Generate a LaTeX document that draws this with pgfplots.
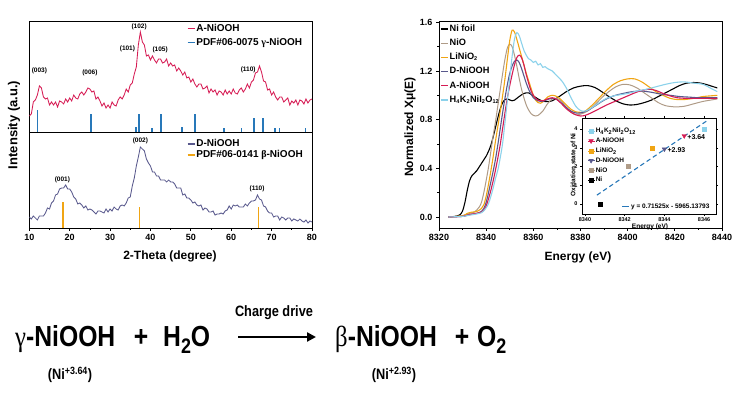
\documentclass[border=0pt]{standalone}
\usepackage{fontspec}
\setmainfont{Liberation Sans}
\newfontfamily\gk{Liberation Serif}
\usepackage{pgfplots}
\pgfplotsset{compat=1.18}
\usetikzlibrary{arrows.meta}
\definecolor{cred}{RGB}{214,28,84}
\definecolor{cblue}{RGB}{40,120,185}
\definecolor{corange}{RGB}{240,165,20}
\definecolor{cpurple}{RGB}{88,88,140}
\definecolor{ctan}{RGB}{175,155,135}
\definecolor{clb}{RGB}{140,210,235}
\newcommand{\anno}{\bfseries\fontsize{6.5}{7}\selectfont}
\newcommand{\eqfont}{\bfseries\fontsize{29}{30}\selectfont}
\newcommand{\sub}[1]{\textsubscript{\fontsize{5.5}{6}\selectfont #1}}
\pgfplotsset{
 myaxis/.style={scale only axis, axis line style={line width=0.9pt}, tick style={line width=0.7pt, black},
   major tick length=3pt, minor tick length=1.8pt, tick align=outside,
   ticklabel style={font=\bfseries\fontsize{9}{10}\selectfont},
   /pgf/number format/assume math mode=true, /pgf/number format/set thousands separator={}},
}
\begin{document}
\begin{tikzpicture}[x=1pt,y=1pt]
\path[use as bounding box] (0,0) rectangle (740,395);

% ---------------- XRD upper
\begin{axis}[myaxis, at={(29.3pt,263pt)}, anchor=south west, width=282.7pt, height=111pt,
  xmin=10, xmax=80, ymin=0, ymax=111, xtick=\empty, ytick=\empty,
  legend cell align=left,
  legend style={at={(0.547,1.0)}, anchor=north west, draw=none, fill=none,
    font=\bfseries\fontsize{10}{11}\selectfont, nodes={inner sep=1pt, text height=7pt, text depth=2pt}, row sep=3.2pt},
  legend image code/.code={\draw[#1, line width=1.2pt] (0pt,0pt) -- (7pt,0pt);}]
\addplot[ycomb, cblue, line width=1.4pt, forget plot] coordinates {(12.1,22) (25.3,18) (36.4,5) (37.2,18) (40.4,4) (42.6,18) (47.8,5) (51.0,18) (58.2,4) (62.6,4) (65.6,14) (67.9,14) (70.8,4) (72.0,4) (78.4,4)};
\addplot[cred, line width=0.85pt, forget plot] coordinates {(10.0,16) (10.5,18) (11.0,30) (11.5,32) (12.0,37) (12.5,46) (13.0,44) (13.5,35) (14.0,33) (14.5,34) (15.0,27) (15.5,30) (16.0,27) (16.5,30) (17.0,25) (17.5,31) (18.0,30) (18.5,28) (19.0,33) (19.5,30) (20.0,34) (20.5,31) (21.0,37) (21.5,34) (22.0,33) (22.5,38) (23.0,40) (23.5,37) (24.0,40) (24.5,44) (25.0,43) (25.5,40) (26.0,41) (26.5,33) (27.0,35) (27.5,31) (28.0,26) (28.5,29) (29.0,24) (29.5,27) (30.0,24) (30.5,30) (31.0,27) (31.5,26) (32.0,32) (32.5,35) (33.0,33) (33.5,37) (34.0,43) (34.5,40) (35.0,47) (35.5,49) (36.0,58) (36.5,65) (37.0,87) (37.5,100) (38.0,90) (38.5,87) (39.0,76) (39.5,77) (40.0,72) (40.5,76) (41.0,72) (41.5,69) (42.0,73) (42.5,73) (43.0,69) (43.5,70) (44.0,73) (44.5,66) (45.0,69) (45.5,66) (46.0,67) (46.5,61) (47.0,64) (47.5,61) (48.0,57) (48.5,60) (49.0,54) (49.5,55) (50.0,50) (50.5,53) (51.0,48) (51.5,45) (52.0,48) (52.5,48) (53.0,43) (53.5,44) (54.0,46) (54.5,39) (55.0,43) (55.5,40) (56.0,42) (56.5,37) (57.0,41) (57.5,40) (58.0,37) (58.5,42) (59.0,38) (59.5,41) (60.0,38) (60.5,43) (61.0,39) (61.5,38) (62.0,42) (62.5,44) (63.0,40) (63.5,43) (64.0,48) (64.5,44) (65.0,50) (65.5,52) (66.0,59) (66.5,60) (67.0,66) (67.5,60) (68.0,51) (68.5,50) (69.0,42) (69.5,43) (70.0,37) (70.5,40) (71.0,35) (71.5,32) (72.0,35) (72.5,35) (73.0,30) (73.5,32) (74.0,34) (74.5,27) (75.0,31) (75.5,29) (76.0,32) (76.5,27) (77.0,32) (77.5,31) (78.0,28) (78.5,33) (79.0,29) (79.5,32) (80.0,33)};
\addlegendimage{cred, line width=1.2pt}
\addlegendentry{A-NiOOH}
\addlegendimage{cblue, line width=1.2pt}
\addlegendentry{PDF\#06-0075 {\gk γ}-NiOOH}
\node[font=\anno] at (axis cs:12.5,61) {(003)};
\node[font=\anno] at (axis cs:25,59) {(006)};
\node[font=\anno] at (axis cs:34.3,83) {(101)};
\node[font=\anno] at (axis cs:37.2,105) {(102)};
\node[font=\anno] at (axis cs:42.4,82) {(105)};
\node[font=\anno] at (axis cs:64.2,62) {(110)};
\end{axis}

% ---------------- XRD lower
\begin{axis}[myaxis, at={(29.3pt,167pt)}, anchor=south west, width=282.7pt, height=96pt,
  xmin=10, xmax=80, ymin=0, ymax=96, xtick={10,20,...,80}, minor x tick num=1, ytick=\empty, tick pos=left,
  legend cell align=left,
  legend style={at={(0.547,0.955)}, anchor=north west, draw=none, fill=none,
    font=\bfseries\fontsize{10}{11}\selectfont, nodes={inner sep=1pt, text height=7pt, text depth=2pt}, row sep=0pt},
  legend image code/.code={\draw[#1, line width=1.2pt] (0pt,0pt) -- (7pt,0pt);}]
\addplot[ycomb, corange, line width=1.4pt, forget plot] coordinates {(18.3,26) (37.3,21) (66.8,21)};
\addplot[cpurple, line width=0.85pt, forget plot] coordinates {(10.0,11) (10.5,9) (11.0,12) (11.5,10) (12.0,8) (12.5,12) (13.0,12) (13.5,12) (14.0,15) (14.5,20) (15.0,19) (15.5,25) (16.0,27) (16.5,33) (17.0,34) (17.5,39) (18.0,40) (18.5,40) (19.0,43) (19.5,39) (20.0,39) (20.5,36) (21.0,31) (21.5,29) (22.0,24) (22.5,25) (23.0,23) (23.5,20) (24.0,22) (24.5,18) (25.0,19) (25.5,18) (26.0,16) (26.5,14) (27.0,17) (27.5,17) (28.0,16) (28.5,15) (29.0,19) (29.5,16) (30.0,19) (30.5,17) (31.0,21) (31.5,19) (32.0,18) (32.5,22) (33.0,23) (33.5,22) (34.0,25) (34.5,30) (35.0,31) (35.5,42) (36.0,50) (36.5,62) (37.0,71) (37.5,81) (38.0,79) (38.5,77) (39.0,69) (39.5,65) (40.0,62) (40.5,56) (41.0,56) (41.5,52) (42.0,52) (42.5,48) (43.0,48) (43.5,48) (44.0,46) (44.5,48) (45.0,46) (45.5,46) (46.0,44) (46.5,40) (47.0,40) (47.5,40) (48.0,33) (48.5,34) (49.0,30) (49.5,30) (50.0,28) (50.5,25) (51.0,26) (51.5,23) (52.0,22) (52.5,23) (53.0,18) (53.5,20) (54.0,19) (54.5,16) (55.0,16) (55.5,17) (56.0,13) (56.5,14) (57.0,14) (57.5,15) (58.0,14) (58.5,17) (59.0,18) (59.5,22) (60.0,19) (60.5,23) (61.0,22) (61.5,23) (62.0,21) (62.5,21) (63.0,21) (63.5,24) (64.0,22) (64.5,25) (65.0,27) (65.5,27) (66.0,28) (66.5,33) (67.0,29) (67.5,28) (68.0,22) (68.5,21) (69.0,17) (69.5,15) (70.0,15) (70.5,11) (71.0,12) (71.5,12) (72.0,8) (72.5,11) (73.0,10) (73.5,8) (74.0,10) (74.5,10) (75.0,7) (75.5,9) (76.0,8) (76.5,7) (77.0,9) (77.5,7) (78.0,6) (78.5,8) (79.0,5) (79.5,7) (80.0,6)};
\addlegendimage{cpurple, line width=1.2pt}
\addlegendentry{D-NiOOH}
\addlegendimage{corange, line width=1.2pt}
\addlegendentry{PDF\#06-0141 {\gk β}-NiOOH}
\node[font=\anno] at (axis cs:18.2,48) {(001)};
\node[font=\anno] at (axis cs:37.5,87) {(002)};
\node[font=\anno] at (axis cs:66.4,39) {(110)};
\end{axis}

\node[rotate=90, font=\bfseries\fontsize{13}{14}\selectfont] at (14,270) {Intensity (a.u.)};
\node[font=\bfseries\fontsize{12}{13}\selectfont] at (170,139) {2-Theta (degree)};

% ---------------- XANES
\begin{axis}[myaxis, at={(439pt,167pt)}, anchor=south west, width=283pt, height=206.5pt,
  xmin=8320, xmax=8440, ymin=-0.0904, ymax=1.6065,
  xtick={8320,8340,...,8440}, minor x tick num=1,
  ytick={0,0.4,0.8,1.2,1.6}, minor y tick num=1, tick pos=left,
  yticklabel style={/pgf/number format/.cd, fixed, fixed zerofill, precision=1},
  legend cell align=left,
  legend style={at={(-0.005,1.0)}, anchor=north west, draw=none, fill=none,
    font=\bfseries\fontsize{9.2}{10}\selectfont, nodes={inner sep=0.6pt, text height=7pt, text depth=2.5pt}, row sep=3.5pt},
  legend image code/.code={\draw[#1, line width=1.3pt] (0pt,0pt) -- (7pt,0pt);}]
\addplot[black, line width=1.1pt, smooth] coordinates {(8324,0.0) (8326,0.003) (8328,0.01) (8329,0.02) (8330,0.05) (8331,0.12) (8332,0.22) (8333,0.30) (8334,0.34) (8335,0.36) (8336,0.38) (8337,0.41) (8338,0.44) (8339,0.47) (8340,0.50) (8341,0.54) (8342,0.59) (8343,0.66) (8344,0.74) (8345,0.82) (8346,0.89) (8347,0.94) (8348,0.965) (8349,0.97) (8350,0.962) (8351,0.955) (8352,0.96) (8353,0.975) (8354,0.99) (8356,1.015) (8358,1.02) (8360,0.995) (8362,0.97) (8364,0.952) (8366,0.948) (8368,0.955) (8371,0.99) (8374,1.03) (8377,1.06) (8380,1.075) (8383,1.08) (8386,1.065) (8389,1.03) (8392,0.99) (8395,0.955) (8398,0.93) (8401,0.92) (8404,0.925) (8407,0.94) (8410,0.96) (8413,0.99) (8416,1.02) (8419,1.05) (8422,1.08) (8425,1.10) (8428,1.105) (8431,1.10) (8434,1.085) (8438,1.06)};
\addlegendentry{Ni foil}
\addplot[ctan, line width=1.0pt, smooth] coordinates {(8324,0.0) (8330,0.01) (8333,0.03) (8335,0.04) (8337,0.08) (8338,0.12) (8339,0.2) (8340,0.3) (8341,0.41) (8342,0.54) (8343,0.67) (8344,0.79) (8345,0.92) (8346,1.05) (8347,1.18) (8348,1.3) (8349,1.39) (8350,1.42) (8351,1.40) (8352,1.33) (8353,1.24) (8354,1.14) (8355,1.05) (8356,0.98) (8357,0.92) (8358,0.88) (8359,0.85) (8360,0.835) (8361,0.83) (8362,0.835) (8364,0.87) (8366,0.93) (8368,0.97) (8370,0.975) (8372,0.95) (8374,0.9) (8376,0.86) (8378,0.84) (8380,0.845) (8383,0.87) (8386,0.92) (8389,0.98) (8392,1.03) (8395,1.07) (8398,1.09) (8401,1.085) (8404,1.06) (8407,1.02) (8410,0.98) (8413,0.94) (8416,0.915) (8420,0.905) (8424,0.91) (8428,0.93) (8432,0.95) (8435,0.96) (8438,0.97)};
\addlegendentry{NiO}
\addplot[corange, line width=1.1pt, smooth] coordinates {(8324,0.0) (8330,0.01) (8332,0.03) (8334,0.04) (8336,0.045) (8338,0.07) (8339,0.1) (8340,0.17) (8341,0.27) (8342,0.38) (8343,0.5) (8344,0.63) (8345,0.75) (8346,0.87) (8347,1.0) (8348,1.14) (8349,1.3) (8350,1.45) (8351,1.535) (8352,1.52) (8353,1.46) (8354,1.39) (8355,1.32) (8356,1.25) (8357,1.18) (8358,1.12) (8359,1.06) (8360,1.0) (8361,0.96) (8362,0.94) (8363,0.935) (8364,0.945) (8366,0.985) (8368,1.0) (8370,0.99) (8372,0.96) (8374,0.92) (8376,0.885) (8378,0.865) (8380,0.86) (8382,0.87) (8385,0.92) (8388,0.98) (8391,1.04) (8394,1.09) (8397,1.12) (8400,1.135) (8403,1.135) (8406,1.11) (8409,1.07) (8412,1.03) (8415,1.0) (8418,0.975) (8421,0.965) (8424,0.965) (8428,0.975) (8432,0.99) (8435,0.995) (8438,1.0)};
\addlegendentry{LiNiO\sub{2}}
\addplot[cpurple, line width=1.1pt, smooth] coordinates {(8324,0.0) (8330,0.005) (8333,0.02) (8336,0.03) (8338,0.045) (8339,0.07) (8340,0.12) (8341,0.2) (8342,0.29) (8343,0.38) (8344,0.48) (8345,0.6) (8346,0.73) (8347,0.86) (8348,0.98) (8349,1.09) (8350,1.18) (8351,1.24) (8352,1.28) (8353,1.29) (8354,1.27) (8355,1.22) (8356,1.16) (8357,1.1) (8358,1.05) (8359,1.01) (8360,0.98) (8362,0.955) (8364,0.95) (8366,0.965) (8368,0.975) (8370,0.965) (8372,0.935) (8374,0.9) (8376,0.87) (8378,0.855) (8380,0.855) (8383,0.875) (8386,0.91) (8390,0.96) (8394,0.995) (8398,1.015) (8402,1.03) (8406,1.035) (8410,1.025) (8414,1.01) (8418,1.0) (8422,0.99) (8426,0.985) (8430,0.98) (8434,0.98) (8438,0.98)};
\addlegendentry{D-NiOOH}
\addplot[cred, line width=1.1pt, smooth] coordinates {(8324,0.0) (8330,0.005) (8333,0.02) (8336,0.03) (8338,0.04) (8339,0.055) (8340,0.09) (8341,0.15) (8342,0.22) (8343,0.3) (8344,0.39) (8345,0.49) (8346,0.6) (8347,0.73) (8348,0.86) (8349,0.98) (8350,1.08) (8351,1.17) (8352,1.25) (8353,1.31) (8354,1.33) (8355,1.31) (8356,1.25) (8357,1.17) (8358,1.1) (8359,1.04) (8360,1.0) (8361,0.975) (8362,0.96) (8364,0.955) (8366,0.97) (8368,0.98) (8370,0.965) (8372,0.93) (8374,0.89) (8376,0.86) (8378,0.84) (8380,0.83) (8382,0.835) (8385,0.86) (8388,0.89) (8391,0.92) (8394,0.945) (8397,0.97) (8400,0.995) (8403,1.02) (8406,1.04) (8409,1.05) (8412,1.04) (8415,1.015) (8418,0.995) (8421,0.98) (8425,0.975) (8430,0.975) (8434,0.975) (8438,0.975)};
\addlegendentry{A-NiOOH}
\addplot[clb, line width=1.1pt, smooth] coordinates {(8324,0.0) (8330,0.005) (8333,0.015) (8336,0.025) (8338,0.035) (8339,0.05) (8340,0.075) (8341,0.11) (8342,0.17) (8343,0.24) (8344,0.32) (8345,0.39) (8346,0.49) (8347,0.61) (8348,0.78) (8349,0.96) (8350,1.14) (8351,1.32) (8352,1.46) (8353,1.515) (8354,1.49) (8355,1.43) (8356,1.37) (8357,1.33) (8358,1.30) (8359,1.29) (8360,1.27) (8361,1.28) (8362,1.25) (8363,1.26) (8364,1.23) (8365,1.235) (8366,1.22) (8367,1.21) (8368,1.2) (8370,1.16) (8372,1.12) (8374,1.06) (8376,0.98) (8378,0.91) (8380,0.875) (8382,0.87) (8385,0.9) (8388,0.94) (8391,0.975) (8394,0.995) (8397,1.005) (8400,1.015) (8404,1.035) (8408,1.05) (8412,1.07) (8416,1.09) (8420,1.105) (8424,1.11) (8428,1.1) (8432,1.09) (8435,1.06) (8438,1.03)};
\addlegendentry{H\sub{4}K\sub{2}NiI\sub{2}O\sub{12}}
\end{axis}

\node[rotate=90, font=\bfseries\fontsize{12}{13}\selectfont] at (410,268) {Normalized Xμ(E)};
\node[font=\bfseries\fontsize{12}{13}\selectfont] at (578,138) {Energy (eV)};

% ---------------- inset
\begin{axis}[myaxis, at={(582pt,181pt)}, anchor=south west, width=134pt, height=96pt,
  axis background/.style={fill=white},
  xmin=8339.85, xmax=8346.6, ymin=-0.53, ymax=4.59,
  xtick={8340,8342,8344,8346}, minor x tick num=1, ytick={0,1,2,3,4},
  major tick length=2pt, minor tick length=1.2pt, tick pos=both,
  axis line style={line width=0.8pt}, tick style={line width=0.5pt, black},
  ticklabel style={font=\bfseries\fontsize{5.5}{6}\selectfont},
  xticklabel style={yshift=1.5pt}, yticklabel style={xshift=1pt},
  legend cell align=left,
  legend style={at={(0.02,0.925)}, anchor=north west, draw=none, fill=none,
    font=\bfseries\fontsize{6.5}{7}\selectfont, nodes={inner sep=0.5pt, text height=5pt, text depth=1.5pt}, row sep=2.3pt},
  legend image code/.code={\path (0pt,0pt) -- (7pt,0pt); \draw[#1] plot coordinates {(3pt,0pt)};}]
\addplot[cblue, line width=1.1pt, dash pattern=on 4.5pt off 3pt, forget plot] coordinates {(8340.6,0.476) (8346.2,4.482)};
\addplot[only marks, mark=square*, mark size=2pt, clb] coordinates {(8346.0,4)};
\addlegendentry{H\sub{4}K\sub{2}NiI\sub{2}O\sub{12}}
\addplot[only marks, mark=triangle*, mark size=2.6pt, mark options={rotate=180}, cred] coordinates {(8345.0,3.64)};
\addlegendentry{A-NiOOH}
\addplot[only marks, mark=square*, mark size=2pt, corange] coordinates {(8343.4,3)};
\addlegendentry{LiNiO\sub{2}}
\addplot[only marks, mark=triangle*, mark size=2.6pt, mark options={rotate=180}, cpurple] coordinates {(8344.0,2.93)};
\addlegendentry{D-NiOOH}
\addplot[only marks, mark=square*, mark size=2pt, ctan] coordinates {(8342.2,2)};
\addlegendentry{NiO}
\addplot[only marks, mark=square*, mark size=2pt, black] coordinates {(8340.76,0)};
\addlegendentry{Ni}
\node[anchor=west, font=\bfseries\fontsize{7}{8}\selectfont, inner sep=1pt] at (axis cs:8345.1,3.55) {+3.64};
\node[anchor=west, font=\bfseries\fontsize{7}{8}\selectfont, inner sep=1pt] at (axis cs:8344.1,2.88) {+2.93};
\node[anchor=east, font=\bfseries\fontsize{6.5}{7}\selectfont, inner sep=1pt] at (rel axis cs:0.96,0.075) {\textcolor{cblue}{\rule[0.25em]{7pt}{1.1pt}}\ y = 0.71525x - 5965.13793};
\end{axis}
\node[rotate=90, font=\bfseries\fontsize{6.5}{7}\selectfont] at (573,230) {Oxidation state of Ni};
\node[font=\bfseries\fontsize{6.5}{7}\selectfont] at (650,168) {Energy (eV)};

% ---------------- equation
\node[anchor=base west, inner sep=0] at (15,48) {\scalebox{0.852}[1]{\eqfont{\mdseries\gk γ}-NiOOH}};
\node[anchor=base, inner sep=0] at (141,48) {\scalebox{0.852}[1]{\eqfont +}};
\node[anchor=base west, inner sep=0] at (163,48) {\scalebox{0.852}[1]{\eqfont H\raisebox{-0.22em}{\fontsize{21}{21}\selectfont 2}O}};
\node[anchor=base west, inner sep=0] at (335,48) {\scalebox{0.852}[1]{\eqfont{\mdseries\gk β}-NiOOH}};
\node[anchor=base, inner sep=0] at (462,48) {\scalebox{0.852}[1]{\eqfont +}};
\node[anchor=base west, inner sep=0] at (477,48) {\scalebox{0.852}[1]{\eqfont O\raisebox{-0.22em}{\fontsize{21}{21}\selectfont 2}}};
\node[anchor=base, inner sep=0] at (70,15) {\scalebox{0.85}[1]{\bfseries\fontsize{15}{16}\selectfont (Ni\textsuperscript{+3.64})}};
\node[anchor=base, inner sep=0] at (394,15) {\scalebox{0.85}[1]{\bfseries\fontsize{15}{16}\selectfont (Ni\textsuperscript{+2.93})}};
\node[inner sep=0] at (274,82) {\scalebox{0.85}[1]{\bfseries\fontsize{15}{16}\selectfont Charge drive}};
\draw[line width=2.6pt, -{Triangle[length=9pt,width=9pt]}] (238,58) -- (316,58);
\end{tikzpicture}
\end{document}
